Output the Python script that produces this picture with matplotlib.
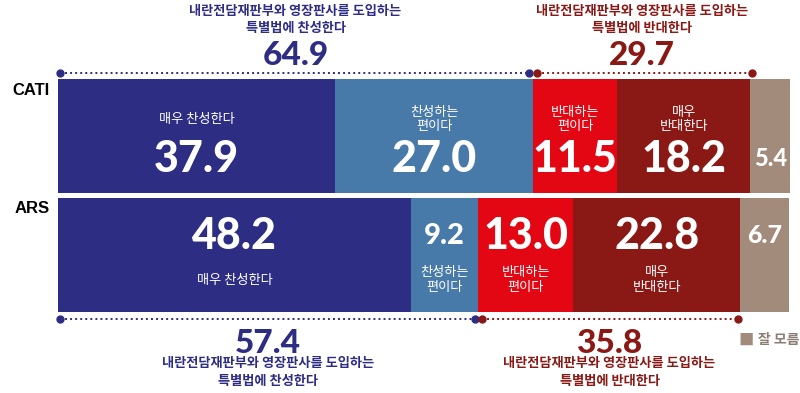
import matplotlib.pyplot as plt
import numpy as np

plt.rcParams['font.family'] = ['Noto Sans CJK KR', 'DejaVu Sans']

# data
rows = ["CATI", "ARS"]
cats = ["매우 찬성한다", "찬성하는\n편이다", "반대하는\n편이다", "매우\n반대한다", "잘 모름"]
cati = [37.9, 27.0, 11.5, 18.2, 5.4]
ars = [48.2, 9.2, 13.0, 22.8, 6.7]
cati_pro, cati_con = 64.9, 29.7
ars_pro, ars_con = 57.4, 35.8
pro_text = "내란전담재판부와 영장판사를 도입하는\n특별법에 찬성한다"
con_text = "내란전담재판부와 영장판사를 도입하는\n특별법에 반대한다"

colors = ["#2e2d84", "#477aa8", "#e30613", "#8a1915", "#a38b7c"]
navy = "#2e2d84"
dred = "#8a1915"
numfont = ['Lato', 'Noto Sans CJK KR']

fig = plt.figure(figsize=(8, 3.93), dpi=100)
ax = fig.add_axes([58/800, 1-314/393, 732/800, 237/393])
ax.set_xlim(0, 100)
ax.set_ylim(-0.5, 1.5)
ax.axis('off')

ypos = {"CATI": 1, "ARS": 0}
h = 0.962
for row, vals in (("CATI", cati), ("ARS", ars)):
    y = ypos[row]
    left = 0
    for i, v in enumerate(vals):
        ax.barh(y, v, left=left, height=h, color=colors[i], linewidth=0)
        cx = left + v / 2
        small = v < 10
        if row == "CATI":
            if i < 4:
                ax.text(cx, y + 0.143, cats[i], ha='center', va='center', color='white',
                        fontsize=9.5, linespacing=1.15)
            ax.text(cx, y - 0.19, f"{v:.1f}", ha='center', va='center', color='white',
                    fontsize=17 if small else 31, fontweight='black', family=numfont)
        else:
            ax.text(cx, y + 0.16, f"{v:.1f}", ha='center', va='center', color='white',
                    fontsize=21 if small and i == 1 else (18 if small else 31),
                    fontweight='black', family=numfont)
            if i < 4:
                ax.text(cx, y - 0.215, cats[i], ha='center', va='center', color='white',
                        fontsize=9.5, linespacing=1.15)
        left += v
    ax.text(-0.012, y + 0.39, row, transform=ax.get_yaxis_transform(), ha='right',
            va='center', fontsize=12, fontweight='bold', color='black', family='Liberation Sans')

# dotted brackets
gap = 0.5
def bracket(y, x0, x1, c):
    ax.plot([x0, x1], [y, y], color=c, linestyle=(0, (1, 1.6)), linewidth=1.4,
            clip_on=False)
    ax.plot([x0, x1], [y, y], 'o', color=c, markersize=5, clip_on=False)

top_y = 1.5 + 4/118.5
bot_y = -0.5 - 5/118.5
bracket(top_y, 0.3, cati_pro - gap, navy)
bracket(top_y, cati_pro + gap, 100 - cati[4] + 0.2, dred)
bracket(bot_y, 0.3, ars_pro - gap, navy)
bracket(bot_y, ars_pro + gap, 100 - ars[4] - 0.4, dred)

# summary annotations
for x, val, txt, c in ((cati_pro / 2, cati_pro, pro_text, navy),
                       ((cati_pro + 100 - cati[4]) / 2, cati_con, con_text, dred)):
    ax.text(x, 1.5 + 12/118.5, f"{val:.1f}", ha='center', va='baseline', color=c,
            fontsize=24, fontweight='black', family=numfont, clip_on=False)
    ax.text(x, 1.5 + 57.5/118.5, txt, ha='center', va='center', color=c, fontsize=9.5,
            fontweight='bold', linespacing=1.3, clip_on=False)
for x, val, txt, c in ((ars_pro / 2, ars_pro, pro_text, navy),
                       ((ars_pro + 100 - ars[4]) / 2, ars_con, con_text, dred)):
    ax.text(x, -0.5 - 39/118.5, f"{val:.1f}", ha='center', va='baseline', color=c,
            fontsize=24, fontweight='black', family=numfont, clip_on=False)
    ax.text(x, -0.5 - 58/118.5, txt, ha='center', va='center', color=c, fontsize=9.5,
            fontweight='bold', linespacing=1.3, clip_on=False)

# legend
fig.text(738/800, 1-340/393, "■", color=colors[4], fontsize=11, va='center', ha='left')
fig.text(799/800, 1-340/393, cats[4], color="#8c7d73", fontsize=10, va='center', ha='right',
         fontweight='bold')

fig.savefig("out.png", dpi=100)
